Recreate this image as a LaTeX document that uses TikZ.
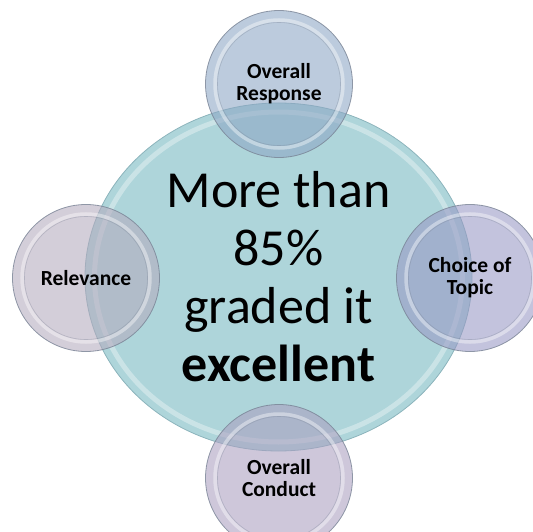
\documentclass[tikz,border=0pt]{standalone}
\usepackage{fontspec}
\setmainfont{Carlito}
\usetikzlibrary{shapes.geometric}
\definecolor{tealfill}{RGB}{174,213,218}
\definecolor{tealedge}{RGB}{140,180,188}
\definecolor{topfill}{RGB}{140,166,196}
\definecolor{relfill}{RGB}{180,170,189}
\definecolor{chofill}{RGB}{152,152,196}
\definecolor{botfill}{RGB}{170,159,192}
\definecolor{ringedge}{RGB}{120,130,148}
\tikzset{
  bigdisc/.style={ellipse, draw=tealedge, line width=0.8pt, fill=tealfill,
    minimum width=387pt, minimum height=348pt, inner sep=0pt, align=center,
    font=\fontsize{52}{58}\selectfont},
  smalldisc/.style={circle, draw=ringedge, line width=0.8pt, fill opacity=0.58,
    draw opacity=0.8, text opacity=1, minimum size=147pt, inner sep=0pt,
    align=center, font=\bfseries\fontsize{21.5}{22}\selectfont},
  bevelring/.style={draw=white, line width=3.5pt, draw opacity=0.4},
  bevelshade/.style={draw=ringedge, line width=0.6pt, draw opacity=0.35},
  bigbevel/.style={draw=white, line width=5pt, draw opacity=0.35}
}
\begin{document}
\begin{tikzpicture}[x=1pt,y=-1pt]
\useasboundingbox (0,0) rectangle (533,532);
\node[bigdisc] (core) at (278.5,277) {More than\\85\%\\graded it\\\textbf{excellent}};
\draw[bigbevel] (core.center) ellipse[x radius=184, y radius=165];
\node[smalldisc, fill=topfill] (resp) at (279,84) {Overall\\Response};
\node[smalldisc, fill=relfill] (rel) at (86,278) {Relevance};
\node[smalldisc, fill=chofill] (topic) at (470,278) {Choice of\\Topic};
\node[smalldisc, fill=botfill] (cond) at (279,478) {Overall\\Conduct};
\foreach \n in {resp,rel,topic,cond}{
  \draw[bevelring] (\n.center) circle[radius=64];
  \draw[bevelshade] (\n.center) circle[radius=61.5];
}
\end{tikzpicture}
\end{document}
